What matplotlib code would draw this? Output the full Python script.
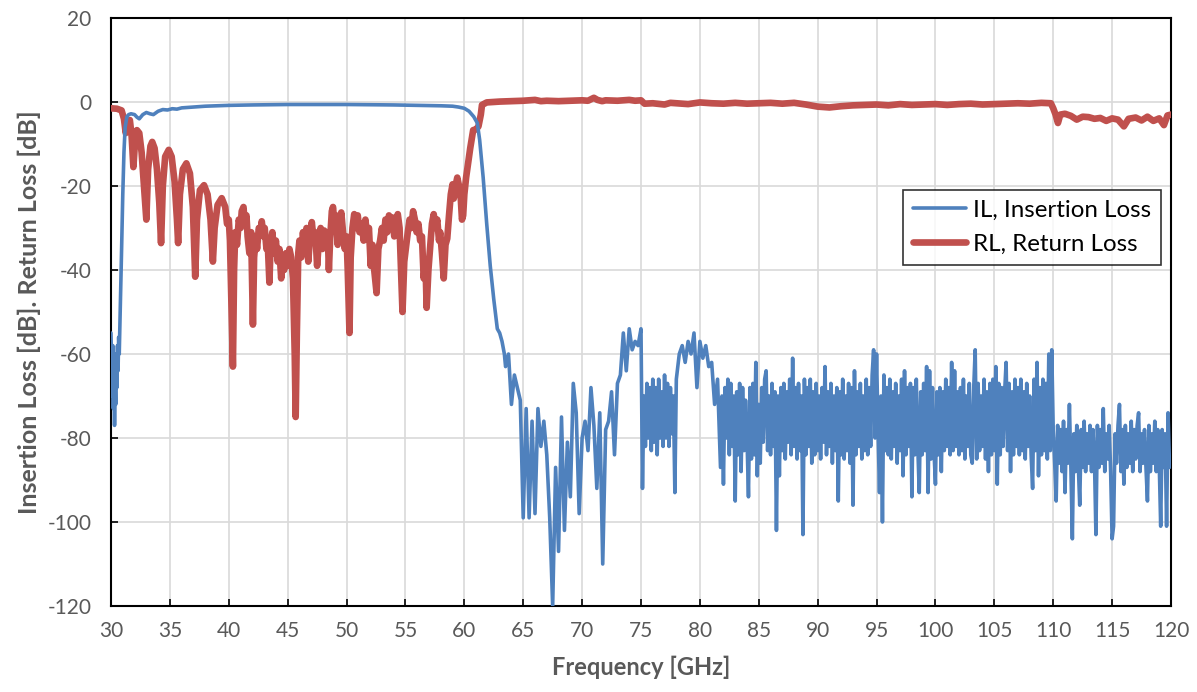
import numpy as np
import matplotlib
matplotlib.use("Agg")
import matplotlib.pyplot as plt

plt.rcParams['font.family'] = ['Lato', 'DejaVu Sans']
plt.rcParams['axes.unicode_minus'] = False

## Insertion loss, passband part (explicit frequencies)
il_pass_f = [30.0, 30.1, 30.15, 30.2, 30.25, 30.3, 30.35, 30.4, 30.45, 30.5, 30.55, 30.6,
             30.65, 30.7, 30.8, 30.9, 31.0, 31.1, 31.2, 31.35, 31.5, 31.7, 32.0, 32.2,
             32.4, 32.7, 33.0, 33.3, 33.6, 34.0, 34.4, 34.8, 35.2, 35.6, 36.0, 36.5,
             37.0, 38.0, 39.0, 40.0, 42.0, 45.0, 50.0, 54.0, 56.0, 58.0, 59.0, 59.5,
             60.0, 60.4, 60.8, 61.1, 61.3, 61.6, 61.9, 62.2, 62.5, 62.8, 63.0, 63.2, 63.4]
il_pass_db = [-55, -70, -58, -73, -62, -77, -65, -72, -60, -68, -58, -64,
              -56, -60, -48, -35, -22, -12, -6, -3.5, -3.0, -2.8, -3.0, -3.6,
              -4.0, -3.0, -2.5, -2.8, -3.0, -2.2, -1.8, -1.9, -1.6, -1.7, -1.4, -1.3,
              -1.2, -1.0, -0.9, -0.8, -0.7, -0.6, -0.6, -0.7, -0.8, -0.9, -1.0, -1.2,
              -1.5, -2.2, -3.5, -5, -9, -18, -29, -39, -47, -54, -55, -57, -60]

## Insertion loss stopband, sampled segments: (start GHz, step GHz, values)
il_seg_a = [-63, -60,
            -72, -65, -68, -71,    # 64
            -99, -73, -99, -76,    # 65
            -98, -73, -82, -76,    # 66
            -84, -99, -120, -87,   # 67
            -107, -75, -102, -81,  # 68
            -94, -67, -74, -98,    # 69
            -80, -76, -83, -68,    # 70
            -77, -92, -74, -110,   # 71
            -78, -76, -69, -84,    # 72
            -67, -65, -55, -64,    # 73
            -54, -59, -57, -58,    # 74
            -54]                   # 75.0
il_seg_b = [-92, -70, -82, -67, -80, -68, -83,
            -66, -81, -68, -84, -66, -80, -69, -82,   # 76
            -65, -80, -67, -82, -68, -79, -70, -93,   # 77
            -66]                                      # 78.0
il_seg_c = [-60, -58, -62, -57, -60, -55, -68, -57, -61, -58, -63, -62, -72, -66, -87]
il_seg_d = [-70,
            -91, -68, -80, -66, -84, -67, -82, -70,    # 82
            -95, -69, -84, -67, -88, -68, -83, -71,    # 83
            -80, -94, -68, -85, -67, -84, -62, -89,    # 84
            -72, -86, -68, -81, -66, -64, -83, -70,    # 85
            -84, -67, -82, -69, -102, -70, -89, -68,   # 86
            -83, -67, -85, -69, -81, -66, -84, -61,    # 87
            -82, -68, -85, -67, -83, -70, -103, -66,   # 88
            -84, -68, -82, -66, -86, -69, -84, -67,    # 89
            -83, -70, -85, -68, -81, -63, -84, -69,    # 90
            -82, -67, -86, -70, -83, -68, -95, -69,    # 91
            -84, -66, -85, -70, -83, -67, -86, -68,    # 92
            -96, -64, -84, -69, -82, -67, -85, -70,    # 93
            -83, -66, -84, -68, -82, -65, -59, -80,    # 94
            -60, -78, -93, -70, -100, -65, -83, -68,   # 95
            -84, -66, -85, -69, -82, -67, -86, -70,    # 96
            -83, -66, -89, -64, -84, -68, -82, -67,    # 97
            -94, -68, -84, -66, -82, -93, -69, -84,    # 98
            -67, -83, -63, -93, -64, -85, -68, -83,    # 99
            -91, -69, -84, -68, -88, -69, -83, -66,    # 100
            -82, -68, -84, -62, -83, -64, -82, -69,    # 101
            -84, -68, -83, -66, -85, -70, -82, -67,    # 102
            -84, -86, -68, -59, -85, -67, -83, -70,    # 103
            -82, -66, -85, -69, -88, -67, -84, -66,    # 104
            -83, -63, -91, -67, -84, -68, -82, -69,    # 105
            -62, -83, -67, -88, -69, -84, -66, -82,    # 106
            -68, -84, -66, -83, -69, -85, -67, -82,    # 107
            -70, -84, -92, -66, -83, -62, -89, -68,    # 108
            -84, -66, -83, -67, -85, -60, -83, -59,    # 109
            -78, -86, -95, -77, -86, -78, -88, -76,    # 110
            -93, -78, -86, -72, -87, -104, -79, -88,   # 111
            -77, -86, -96, -78, -87, -76, -88, -79,    # 112
            -86, -77, -88, -78, -85, -103, -77, -87,   # 113
            -78, -86, -73, -88, -79, -85, -77, -88,    # 114
            -104, -101, -79, -86, -77, -72, -88, -78,  # 115
            -91, -77, -87, -79, -86, -76, -88, -78,    # 116
            -85, -77, -74, -88, -79, -86, -78, -87,    # 117
            -95, -77, -88, -79, -86, -76, -88, -78,    # 118
            -86, -101, -78, -87, -79, -101, -74, -87,  # 119
            -86]                                       # 120
il_segments = [(63.5, 0.25, il_seg_a), (75.125, 0.125, il_seg_b),
               (78.25, 0.25, il_seg_c), (81.875, 0.125, il_seg_d)]

## Return loss, (GHz, dB) pairs
rl_low = [(30.0, -1.5), (30.5, -1.6), (30.9, -2.0), (31.1, -4), (31.25, -7.4), (31.45, -5),
          (31.6, -4.3), (31.75, -8), (31.9, -15.5), (32.05, -9), (32.2, -6.7), (32.4, -7.4),
          (32.6, -12), (32.8, -20), (33.0, -28), (33.15, -16), (33.35, -10.5), (33.5, -9.5),
          (33.7, -11), (33.9, -16), (34.1, -24), (34.25, -33.6), (34.4, -20), (34.6, -13),
          (34.9, -11.4), (35.15, -13), (35.4, -19), (35.6, -28), (35.7, -33.6), (35.85, -22),
          (36.1, -16), (36.4, -14.6), (36.7, -17), (36.95, -25), (37.15, -41.6), (37.3, -28),
          (37.55, -21), (37.9, -19.8), (38.2, -22), (38.45, -28), (38.65, -38), (38.8, -30),
          (39.05, -24.5), (39.4, -22.9), (39.7, -25), (39.85, -29)]
rl_mid = [(40.0, -28), (40.1, -33), (40.2, -45), (40.35, -63), (40.45, -40), (40.55, -31),
          (40.7, -34), (40.85, -28), (41.0, -30), (41.1, -26), (41.25, -25), (41.35, -29),
          (41.5, -27), (41.6, -32), (41.75, -36), (41.9, -31), (42.05, -53), (42.15, -37),
          (42.3, -32), (42.4, -35), (42.55, -30), (42.7, -31), (42.8, -28.4), (42.95, -32),
          (43.05, -30), (43.2, -35), (43.3, -33), (43.45, -43), (43.55, -34), (43.7, -31),
          (43.85, -36), (44.0, -33), (44.15, -38), (44.3, -35), (44.45, -42), (44.55, -37),
          (44.7, -40), (44.85, -36), (45.0, -39), (45.15, -35), (45.3, -37), (45.45, -42),
          (45.6, -60), (45.68, -75), (45.78, -55), (45.9, -36), (46.0, -33), (46.15, -37),
          (46.3, -31), (46.45, -36), (46.6, -30), (46.75, -38), (46.9, -32), (47.05, -28.6),
          (47.2, -33), (47.35, -31), (47.5, -39), (47.65, -33), (47.8, -30), (47.95, -35),
          (48.1, -30.6), (48.25, -34), (48.4, -31), (48.5, -40), (48.6, -33), (48.75, -26),
          (48.85, -25), (49.0, -30), (49.1, -27), (49.25, -34), (49.4, -29), (49.55, -26.3),
          (49.7, -31), (49.85, -35), (50.0, -32), (50.1, -40), (50.25, -55), (50.35, -37),
          (50.5, -30), (50.65, -26.7), (50.8, -30), (50.95, -27), (51.1, -31), (51.3, -29),
          (51.45, -33), (51.6, -28), (51.75, -32), (51.9, -30), (52.05, -39), (52.2, -34),
          (52.35, -40), (52.55, -45.5), (52.7, -35), (52.85, -33), (53.0, -30), (53.15, -33),
          (53.3, -28), (53.45, -31), (53.6, -27), (53.75, -29), (53.9, -27.5), (54.05, -32),
          (54.2, -28), (54.35, -26.7), (54.5, -30), (54.6, -38), (54.75, -50), (54.9, -38),
          (55.05, -34.5), (55.2, -31), (55.35, -28), (55.5, -30), (55.65, -26), (55.8, -28),
          (55.95, -31), (56.1, -29), (56.25, -33), (56.4, -32), (56.55, -42), (56.7, -38),
          (56.8, -49), (56.95, -40), (57.1, -34.5), (57.25, -29), (57.4, -26.7), (57.55, -30),
          (57.7, -28), (57.85, -33), (57.95, -31), (58.1, -36), (58.25, -42), (58.4, -34),
          (58.55, -32.5), (58.7, -27), (58.85, -22), (59.0, -19.6), (59.1, -23), (59.25, -20),
          (59.4, -18), (59.55, -20), (59.7, -23), (59.8, -28), (59.9, -27), (60.0, -22),
          (60.15, -18), (60.3, -15), (60.5, -11), (60.75, -6.7), (61.0, -6.5), (61.2, -5.8),
          (61.4, -3), (61.5, -0.7), (61.9, -0.1)]
rl_high = [(62.5, 0.0), (63.0, 0.1), (64.0, 0.2), (65.0, 0.3), (66.0, 0.5), (66.5, 0.2),
           (67.0, 0.3), (68.0, 0.2), (69.0, 0.3), (70.0, 0.4), (70.5, 0.3), (71.0, 1.0),
           (71.3, 0.5), (71.7, 0.2), (72.0, 0.4), (73.0, 0.3), (74.0, 0.5), (74.5, 0.3),
           (75.0, 0.4), (75.3, -0.4), (76.0, -0.3), (77.0, -0.6), (77.5, -0.2), (78.0, -0.3),
           (79.0, -0.5), (80.0, -0.1), (81.0, -0.3), (82.0, -0.4), (83.0, -0.2), (84.0, -0.4),
           (85.0, -0.3), (86.0, -0.2), (87.0, -0.4), (88.0, -0.2), (89.0, -0.6), (90.0, -1.1),
           (91.0, -1.3), (92.0, -1.0), (93.0, -0.8), (94.0, -0.7), (95.0, -0.6), (96.0, -0.8),
           (97.0, -0.5), (98.0, -0.7), (99.0, -0.6), (100.0, -0.5), (101.0, -0.7), (102.0, -0.5),
           (103.0, -0.4), (104.0, -0.6), (105.0, -0.5), (106.0, -0.4), (107.0, -0.3), (108.0, -0.4),
           (109.0, -0.2), (109.8, -0.3), (110.0, -1.5), (110.2, -3.0), (110.4, -5.0), (110.6, -3.0),
           (111.0, -2.8), (111.5, -3.3), (112.0, -4.2), (112.5, -3.5), (113.0, -3.6), (113.5, -4.0),
           (114.0, -3.8), (114.5, -4.5), (115.0, -3.9), (115.5, -4.2), (116.0, -5.8), (116.4, -4.0),
           (117.0, -3.7), (117.5, -4.4), (118.0, -3.5), (118.5, -4.5), (119.0, -3.9), (119.4, -5.5),
           (119.7, -3.2), (120.0, -3.0)]

x_ticks = list(range(30, 121, 5))
y_ticks = list(range(-120, 21, 20))


def main():
    il_f = list(il_pass_f)
    il_db = list(il_pass_db)
    for start, step, vals in il_segments:
        il_f += list(start + step * np.arange(len(vals)))
        il_db += vals

    rl = rl_low + rl_mid + rl_high
    rl_f = [p[0] for p in rl]
    rl_db = [p[1] for p in rl]

    fig = plt.figure(figsize=(11.97, 6.92), dpi=100)
    ax = fig.add_axes([111/1197, 1 - 606/692, 1060/1197, 588/692])

    rl_line, = ax.plot(rl_f, rl_db, color='#c0504d', lw=4.8, solid_joinstyle='round',
                       solid_capstyle='round', label='RL, Return Loss', zorder=3)
    il_line, = ax.plot(il_f, il_db, color='#4f81bd', lw=2.6, solid_joinstyle='round',
                       solid_capstyle='round', label='IL, Insertion Loss', zorder=4)

    ax.set_xlim(30, 120)
    ax.set_ylim(-120, 20)
    ax.set_xticks(x_ticks)
    ax.set_yticks(y_ticks)
    ax.grid(True, color='#d9d9d9', lw=1.2)
    ax.set_axisbelow(True)
    for s in ax.spines.values():
        s.set_color('black')
        s.set_linewidth(1.5)
    ax.tick_params(direction='in', length=5, width=1.2, colors='black',
                   labelcolor='#595959', labelsize=15)
    ax.tick_params(axis='x', pad=11)
    ax.tick_params(axis='y', pad=14)

    ax.set_xlabel('Frequency [GHz]', fontsize=17, fontweight='bold', color='#595959', labelpad=10)
    ax.set_ylabel('Insertion Loss [dB]. Return Loss [dB]', fontsize=18, fontweight='bold',
                  color='#595959', labelpad=5)

    leg = ax.legend(handles=[il_line, rl_line], loc='upper left',
                    bbox_to_anchor=(903/1197, 1 - 190/692), bbox_transform=fig.transFigure,
                    fontsize=17.4, frameon=True, fancybox=False, handlelength=2.2,
                    handletextpad=0.3, borderpad=0.4, labelspacing=0.55, borderaxespad=0)
    leg.get_frame().set_edgecolor('black')
    leg.get_frame().set_linewidth(1.2)
    for t in leg.get_texts():
        t.set_color('black')

    fig.savefig('out.png', dpi=100)


if __name__ == "__main__":
    main()
